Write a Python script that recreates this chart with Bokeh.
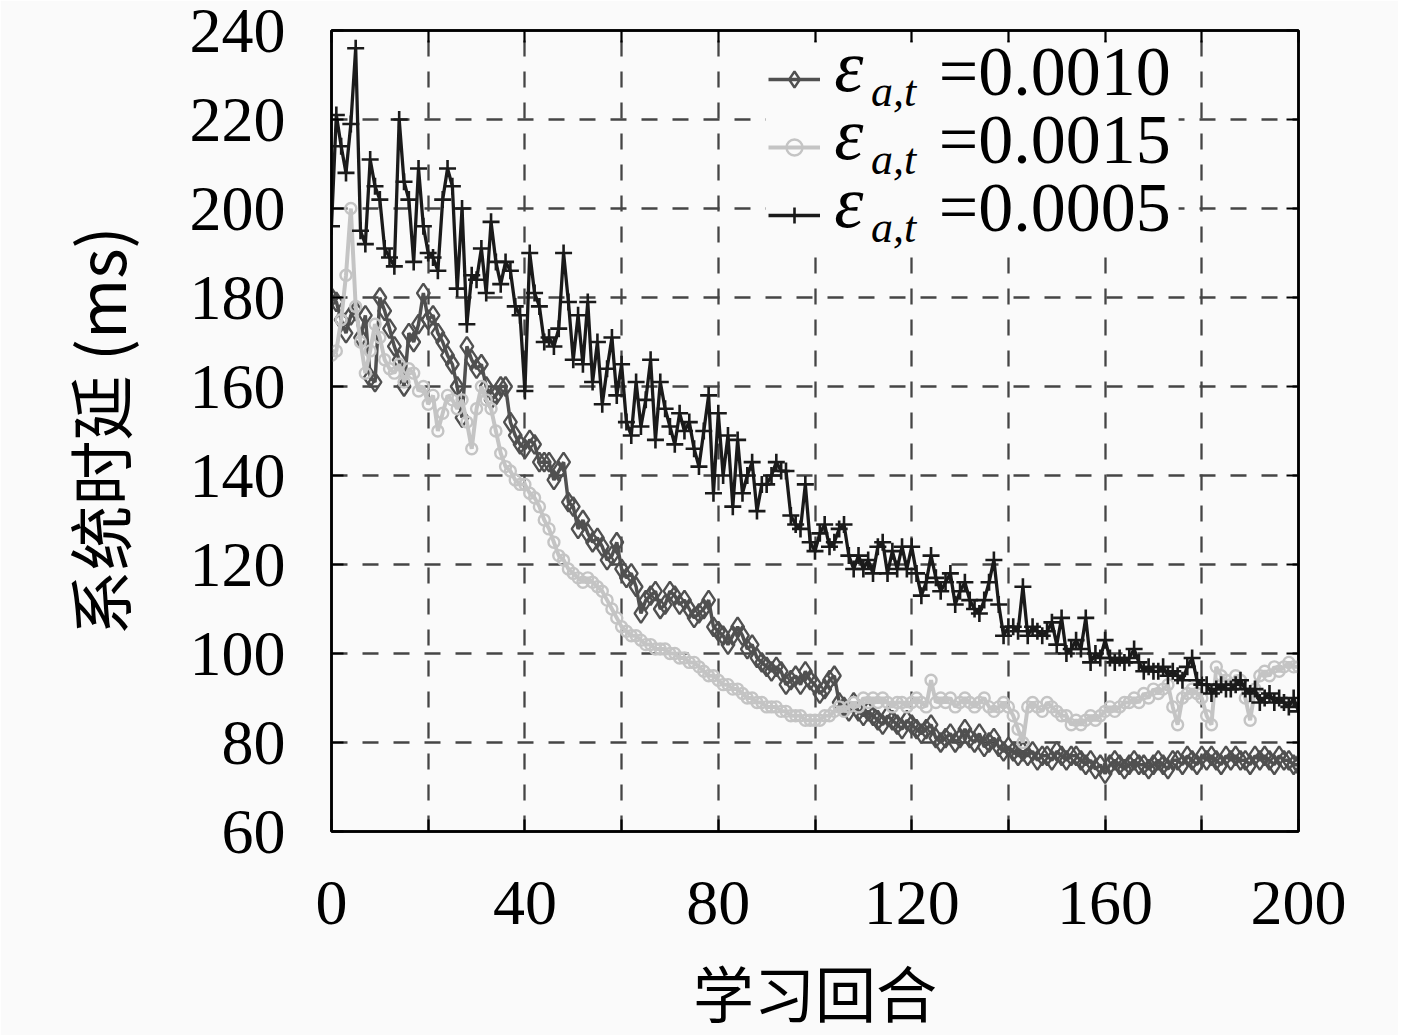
from bokeh.plotting import figure
from bokeh.models import (FixedTicker, LinearAxis, Legend, LegendItem, Label,
                          Range1d, BoxAnnotation)
from bokeh.embed import file_html
from bokeh.resources import INLINE

episodes = list(range(201))

delay_0010 = [180, 179, 175, 172, 176, 177, 171, 176, 162, 161,
              180, 177, 173, 169, 166, 160, 172, 170, 174, 181,
              175, 176, 172, 170, 167, 165, 160, 153, 169, 166,
              164, 165, 160, 157, 158, 160, 160, 152, 149, 147,
              146, 148, 147, 143, 143, 143, 139, 141, 143, 134,
              133, 128, 130, 127, 125, 126, 124, 121, 122, 125,
              119, 117, 118, 115, 109, 112, 113, 114, 110, 111,
              114, 113, 111, 112, 110, 108, 109, 110, 112, 106,
              105, 104, 102, 104, 106, 104, 101, 102, 99, 98,
              97, 96, 97, 96, 93, 94, 95, 93, 96, 94,
              93, 91, 92, 94, 95, 89, 88, 87, 89, 87,
              86, 87, 86, 85, 84, 86, 85, 84, 83, 85,
              84, 83, 82, 83, 84, 81, 80, 81, 82, 80,
              81, 83, 81, 80, 82, 79, 80, 81, 79, 78,
              79, 78, 77, 78, 77, 78, 76, 77, 77, 76,
              78, 77, 76, 77, 77, 76, 75, 76, 74, 75,
              73, 75, 76, 75, 74, 75, 76, 75, 75, 74,
              75, 76, 75, 74, 76, 76, 75, 77, 76, 75,
              77, 76, 77, 76, 75, 77, 76, 77, 76, 76,
              75, 77, 76, 77, 76, 75, 77, 76, 76, 75,
              75]

delay_0015 = [167, 168, 175, 185, 200, 178, 170, 163, 168, 174,
              171, 166, 164, 163, 165, 161, 164, 163, 159, 160,
              156, 158, 150, 154, 158, 157, 155, 157, 152, 146,
              155, 160, 157, 155, 150, 145, 142, 141, 139, 138,
              138, 136, 135, 133, 130, 128, 125, 122, 121, 119,
              118, 117, 116, 117, 116, 115, 114, 112, 110, 108,
              106, 105, 104, 104, 103, 102, 102, 101, 101, 101,
              100, 100, 99, 99, 98, 98, 97, 96, 95, 95,
              94, 93, 93, 92, 92, 91, 90, 90, 89, 89,
              88, 88, 88, 87, 87, 86, 86, 86, 85, 85,
              85, 85, 86, 86, 87, 88, 87, 88, 89, 88,
              90, 89, 90, 89, 90, 89, 88, 89, 89, 88,
              89, 90, 89, 88, 94, 89, 90, 89, 90, 88,
              89, 90, 89, 88, 89, 90, 88, 87, 88, 89,
              88, 86, 83, 80, 88, 89, 88, 87, 89, 88,
              87, 86, 86, 84, 85, 84, 85, 86, 85, 86,
              87, 88, 87, 88, 89, 89, 90, 89, 91, 90,
              92, 91, 92, 93, 88, 84, 90, 91, 92, 91,
              90, 86, 84, 97, 95, 94, 93, 95, 94, 90,
              85, 92, 95, 96, 95, 97, 96, 97, 98, 97,
              97]

delay_0005 = [196, 221, 214, 208, 219, 236, 195, 192, 211, 205,
              202, 191, 189, 187, 220, 206, 202, 188, 209, 196,
              190, 189, 186, 202, 209, 205, 182, 200, 174, 185,
              184, 191, 181, 197, 188, 183, 188, 186, 178, 176,
              159, 190, 181, 178, 170, 171, 169, 173, 190, 179,
              166, 176, 165, 179, 161, 170, 156, 164, 171, 158,
              165, 152, 149, 161, 151, 157, 166, 148, 161, 155,
              151, 147, 154, 150, 152, 146, 142, 150, 158, 136,
              154, 140, 149, 133, 148, 136, 140, 143, 132, 138,
              138, 140, 143, 141, 141, 131, 129, 128, 138, 125,
              123, 127, 129, 124, 125, 128, 129, 122, 119, 122,
              119, 121, 118, 124, 125, 118, 123, 119, 124, 119,
              124, 118, 113, 116, 122, 117, 114, 116, 118, 111,
              114, 116, 112, 110, 109, 112, 116, 121, 111, 104,
              106, 106, 105, 115, 104, 106, 105, 104, 105, 107,
              102, 108, 100, 101, 103, 101, 108, 98, 100, 99,
              103, 99, 98, 99, 98, 99, 101, 98, 96, 97,
              96, 96, 97, 95, 96, 95, 94, 97, 99, 94,
              93, 93, 91, 92, 93, 92, 92, 93, 94, 92,
              91, 92, 89, 90, 91, 89, 90, 89, 88, 90,
              87]

series_labels = ["=0.0010", "=0.0015", "=0.0005"]
x_ticks = [0, 20, 40, 60, 80, 100, 120, 140, 160, 180, 200]
y_ticks = [60, 80, 100, 120, 140, 160, 180, 200, 220, 240]

BG = "#fafafa"
SERIF = "Liberation Serif"
CJK = "Noto Sans CJK SC"

p = figure(frame_width=967, frame_height=801,
           min_border_left=331, min_border_right=100,
           min_border_top=30, min_border_bottom=150,
           x_range=Range1d(0, 200), y_range=Range1d(60, 240),
           output_backend="svg", toolbar_location=None,
           background_fill_color=BG, border_fill_color=BG)
p.outline_line_color = "black"
p.outline_line_width = 2.5

for g in (p.xgrid, p.ygrid):
    g.grid_line_color = "#454545"
    g.grid_line_width = 2.3
    g.grid_line_dash = "16 15"
p.xgrid.ticker = FixedTicker(ticks=x_ticks)
p.ygrid.ticker = FixedTicker(ticks=y_ticks)

overrides = {t: ("" if (t // 20) % 2 == 1 else str(t)) for t in x_ticks}

def style_axis(ax, ticks, labels=True, over=None):
    ax.ticker = FixedTicker(ticks=ticks)
    ax.axis_line_color = "black"
    ax.axis_line_width = 2.5
    ax.major_tick_in = 12
    ax.major_tick_out = 0
    ax.major_tick_line_width = 2.2
    ax.major_tick_line_color = "black"
    ax.minor_tick_line_color = None
    ax.major_label_text_font = SERIF
    ax.major_label_text_font_size = "64px"
    ax.major_label_text_color = "black"
    if over:
        ax.major_label_overrides = over
    if not labels:
        ax.major_label_text_font_size = "0px"
        ax.major_label_text_alpha = 0

xa = p.xaxis[0]
style_axis(xa, x_ticks, over=overrides)
xa.major_label_standoff = 50
xa.axis_label = "学习回合"
xa.axis_label_text_font = CJK
xa.axis_label_text_font_size = "61px"
xa.axis_label_text_font_style = "normal"
xa.axis_label_text_color = "black"
xa.axis_label_standoff = 20

ya = p.yaxis[0]
style_axis(ya, y_ticks)
ya.major_label_standoff = 46
ya.axis_label = "系统时延 (ms)"
ya.axis_label_text_font = CJK
ya.axis_label_text_font_size = "65px"
ya.axis_label_text_font_style = "normal"
ya.axis_label_text_color = "black"
ya.axis_label_standoff = 42

top = LinearAxis()
style_axis(top, x_ticks, labels=False)
p.add_layout(top, "above")
right = LinearAxis()
style_axis(right, y_ticks, labels=False)
p.add_layout(right, "right")

c1, c2, c3 = "#505050", "#c4c4c4", "#1a1a1a"
l1 = p.line(episodes, delay_0010, line_color=c1, line_width=3.5)
s1 = p.scatter(episodes, delay_0010, marker="diamond", size=19,
               line_color=c1, line_width=2.4, fill_color=None)
l2 = p.line(episodes, delay_0015, line_color=c2, line_width=4)
s2 = p.scatter(episodes, delay_0015, marker="circle", size=11,
               line_color=c2, line_width=2.4, fill_color=None)
l3 = p.line(episodes, delay_0005, line_color=c3, line_width=3.3)
s3 = p.scatter(episodes, delay_0005, marker="cross", size=17,
               line_color=c3, line_width=2.6)

# opaque patch behind the legend (hides the grid there)
p.add_layout(BoxAnnotation(left=89.8, right=175.2, top=237.3, bottom=190.6,
                           fill_color=BG, fill_alpha=1.0, line_color=None))

# legend samples (line + marker) drawn by Bokeh's legend
legend_rows = [(l1, s1, 707), (l2, s2, 639), (l3, s3, 571)]
for line_r, mark_r, ypos in legend_rows:
    lg = Legend(items=[LegendItem(label="\u00a0", renderers=[line_r, mark_r])],
                location=(437, ypos), orientation="vertical",
                glyph_width=52, glyph_height=40,
                padding=10, margin=0, label_standoff=0,
                label_text_font=SERIF, label_text_font_size="80px",
                label_text_color="black",
                background_fill_alpha=0.0, border_line_color=None)
    p.add_layout(lg, "center")

# legend texts: ε with subscript a,t and the value
eps_base = [232.1, 216.8, 201.5]
sub_base = [226.3, 211.0, 195.7]
val_base = [230.8, 215.5, 200.2]
for i, txt in enumerate(series_labels):
    p.add_layout(Label(x=104.0, y=eps_base[i], text="ε",
                       text_font=SERIF, text_font_style="italic",
                       text_font_size="74px", text_color="black",
                       text_baseline="alphabetic", text_align="left"))
    p.add_layout(Label(x=111.6, y=sub_base[i], text="a,t",
                       text_font=SERIF, text_font_style="italic",
                       text_font_size="44px", text_color="black",
                       text_baseline="alphabetic", text_align="left"))
    p.add_layout(Label(x=125.6, y=val_base[i], text=txt,
                       text_font=SERIF, text_font_size="70px",
                       text_color="black", text_baseline="alphabetic",
                       text_align="left"))

open("out.html", "w").write(file_html(p, INLINE))
